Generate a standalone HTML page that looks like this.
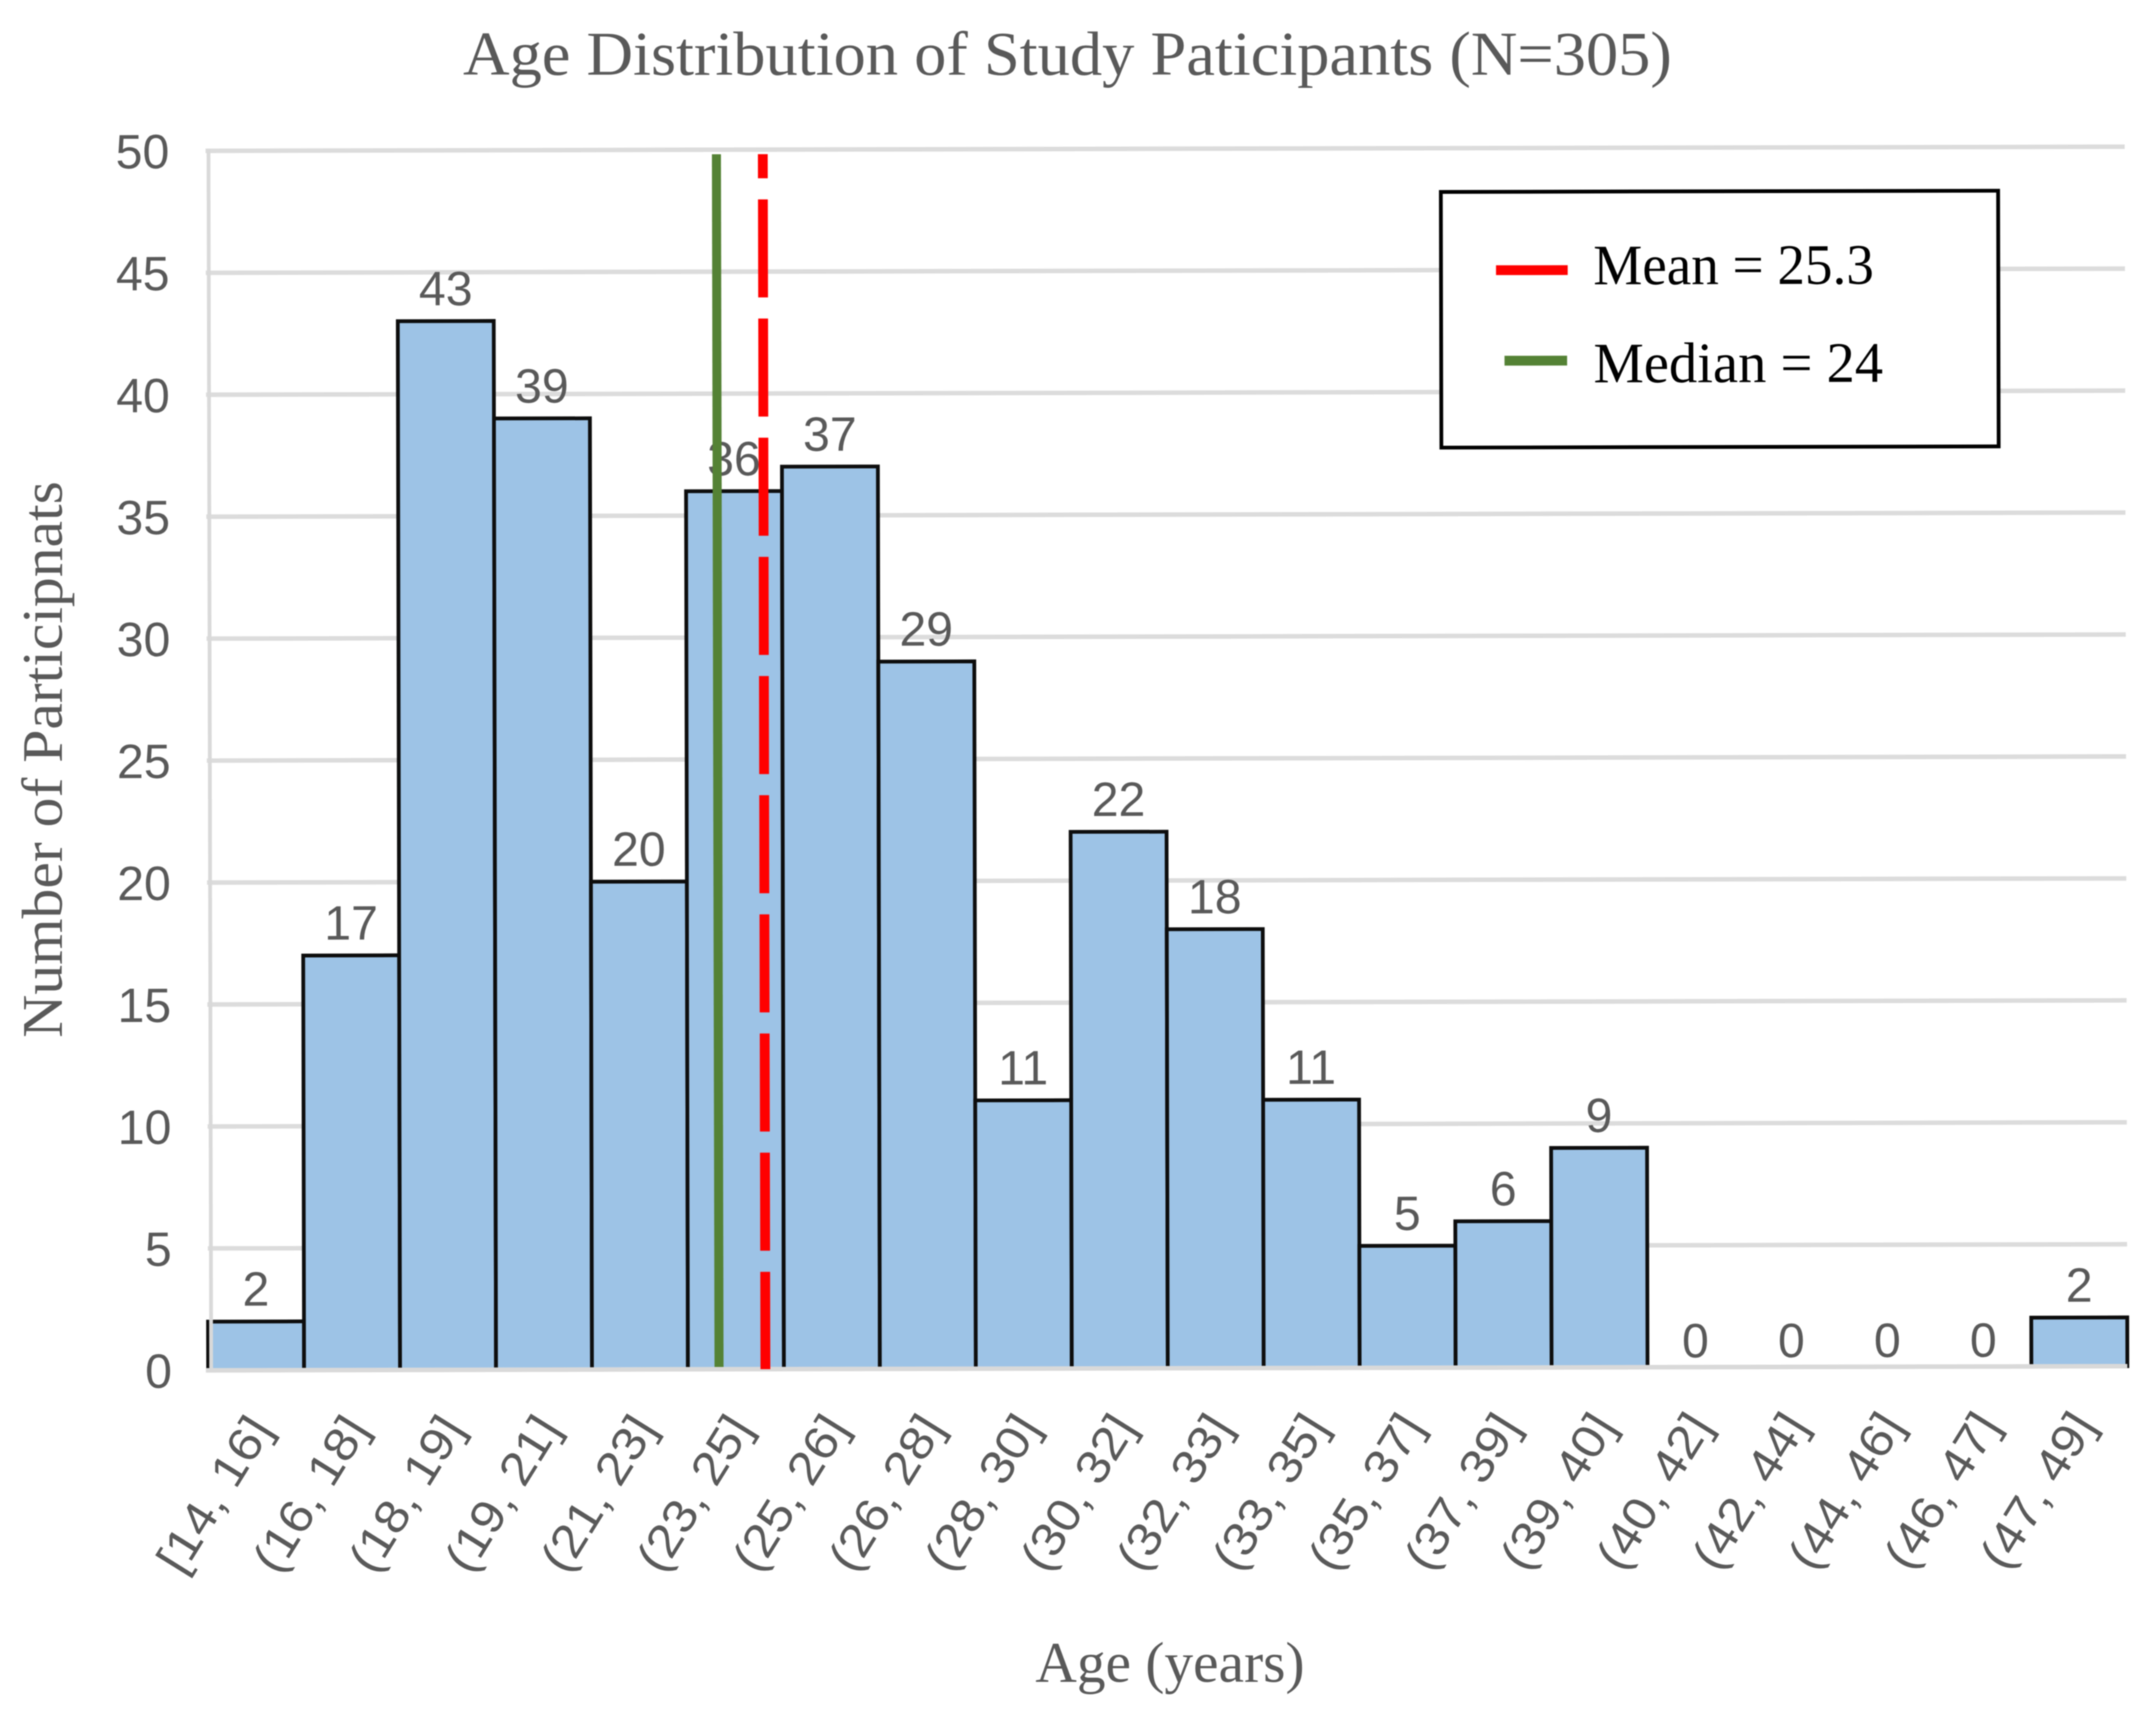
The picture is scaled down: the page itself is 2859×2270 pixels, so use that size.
<!DOCTYPE html>
<html lang="en">
<head>
<meta charset="utf-8">
<title>Age Distribution of Study Paticipants (N=305)</title>
<style>
  html, body { margin: 0; padding: 0; background: #fff; }
  svg { display: block; filter: blur(0.7px); }
  text { font-family: "Liberation Sans", sans-serif; fill: #595959; }
  .serif { font-family: "Liberation Serif", serif; }
</style>
</head>
<body>
<svg id="chart" xmlns="http://www.w3.org/2000/svg" width="2859" height="2270" viewBox="0 0 2859 2270">
  <rect x="0" y="0" width="2859" height="2270" fill="#ffffff"/>
  <text class="serif" x="614" y="99" font-size="83" textLength="1603" lengthAdjust="spacingAndGlyphs">Age Distribution of Study Paticipants (N=305)</text>
  <text class="serif" transform="translate(82,1376) rotate(-90)" font-size="76" textLength="738" lengthAdjust="spacingAndGlyphs">Number of Participnats</text>
  <text class="serif" x="1373" y="2230" font-size="76" textLength="357" lengthAdjust="spacingAndGlyphs">Age (years)</text>
  <g id="plot" transform="rotate(-0.124 277 1817)">
    <g id="grid"></g>
    <g id="bars"></g>
    <g id="axes"></g>
    <g id="yticks"></g>
    <g id="xticks"></g>
    <g id="values"></g>
    <g id="refs"></g>
    <g id="legend"></g>
  </g>
</svg>
<script>
const categories = ["[14, 16]", "(16, 18]", "(18, 19]", "(19, 21]", "(21, 23]", "(23, 25]", "(25, 26]", "(26, 28]", "(28, 30]", "(30, 32]", "(32, 33]", "(33, 35]", "(35, 37]", "(37, 39]", "(39, 40]", "(40, 42]", "(42, 44]", "(44, 46]", "(46, 47]", "(47, 49]"];
const counts = [2, 17, 43, 39, 20, 36, 37, 29, 11, 22, 18, 11, 5, 6, 9, 0, 0, 0, 0, 2];
const yTickValues = [0, 5, 10, 15, 20, 25, 30, 35, 40, 45, 50];
const meanAge = 25.3;
const medianAge = 24;

const NS = 'http://www.w3.org/2000/svg';
const PLOT_LEFT = 276, PLOT_RIGHT = 2821, PLOT_BOTTOM = 1817, PLOT_TOP = 200, Y_MAX = 50;

function yScale(v) { return PLOT_BOTTOM - (v / Y_MAX) * (PLOT_BOTTOM - PLOT_TOP); }
function xBand(i) { return PLOT_LEFT + i * (PLOT_RIGHT - PLOT_LEFT) / categories.length; }
function xCenter(i) { return (xBand(i) + xBand(i + 1)) / 2; }
function xAge(age) { return 953.5 + (age - 24) * 47.3; }

function make(tag, parent, attrs) {
  const el = document.createElementNS(NS, tag);
  for (const k in attrs) el.setAttribute(k, attrs[k]);
  parent.appendChild(el);
  return el;
}

const gridG = document.getElementById('grid');
const barsG = document.getElementById('bars');
const axesG = document.getElementById('axes');
const yG = document.getElementById('yticks');
const xG = document.getElementById('xticks');
const valG = document.getElementById('values');
const refG = document.getElementById('refs');
const legG = document.getElementById('legend');

yTickValues.forEach(function (v) {
  if (v !== 0) {
    const line = make('line', gridG, { x1: PLOT_LEFT, x2: PLOT_RIGHT, y1: yScale(v), y2: yScale(v), stroke: '#dcdcdc', 'stroke-width': 6 });
    
    
  }
  const t = make('text', yG, { x: 228, y: yScale(v) + 23, 'text-anchor': 'end', 'font-size': 64 });
  t.textContent = v;
  
  
});

counts.forEach(function (v, i) {
  if (v > 0) {
    const r = make('rect', barsG, { x: xBand(i), y: yScale(v), width: xBand(i + 1) - xBand(i), height: yScale(0) - yScale(v), fill: '#9dc3e6', stroke: '#0d0d0d', 'stroke-width': 5 });
    
    
  }
  const lab = make('text', valG, { x: xCenter(i), y: yScale(v) - (v === 0 ? 13 : 21), 'text-anchor': 'middle', 'font-size': 64 });
  lab.textContent = v;
  
  

  const tx = make('text', xG, { 'text-anchor': 'end', 'font-size': 62, transform: 'translate(' + (xCenter(i) + 23) + ',1895) rotate(-58)', textLength: 230, lengthAdjust: 'spacingAndGlyphs' });
  tx.textContent = categories[i];
  
  
});

const axisY = make('line', axesG, { x1: 280, x2: 280, y1: PLOT_TOP - 3, y2: PLOT_BOTTOM, stroke: '#d9d9d9', 'stroke-width': 5 });


const axisX = make('line', axesG, { x1: PLOT_LEFT - 3, x2: PLOT_RIGHT, y1: PLOT_BOTTOM, y2: PLOT_BOTTOM, stroke: '#d9d9d9', 'stroke-width': 6 });



const medLine = make('line', refG, { x1: xAge(medianAge), x2: xAge(medianAge), y1: 206, y2: PLOT_BOTTOM - 3, stroke: '#548235', 'stroke-width': 12 });


const meanLine = make('line', refG, { x1: xAge(meanAge), x2: xAge(meanAge), y1: 206, y2: PLOT_BOTTOM, stroke: '#ff0000', 'stroke-width': 13, 'stroke-dasharray': '130 28', 'stroke-dashoffset': 98 });



const box = make('rect', legG, { x: 1914, y: 258, width: 739, height: 339, fill: '#ffffff', stroke: '#000000', 'stroke-width': 5 });


const k1 = make('line', legG, { x1: 1987, x2: 2082, y1: 362, y2: 362, stroke: '#ff0000', 'stroke-width': 13 });


const k2 = make('line', legG, { x1: 1998, x2: 2081, y1: 482, y2: 482, stroke: '#548235', 'stroke-width': 13 });


const t1 = make('text', legG, { x: 2116, y: 381, 'font-size': 76, class: 'serif', textLength: 372, lengthAdjust: 'spacingAndGlyphs', style: 'fill:#000' });
t1.textContent = 'Mean = ' + meanAge;


const t2 = make('text', legG, { x: 2116, y: 511, 'font-size': 76, class: 'serif', textLength: 384, lengthAdjust: 'spacingAndGlyphs', style: 'fill:#000' });
t2.textContent = 'Median = ' + medianAge;


</script>
</body>
</html>
